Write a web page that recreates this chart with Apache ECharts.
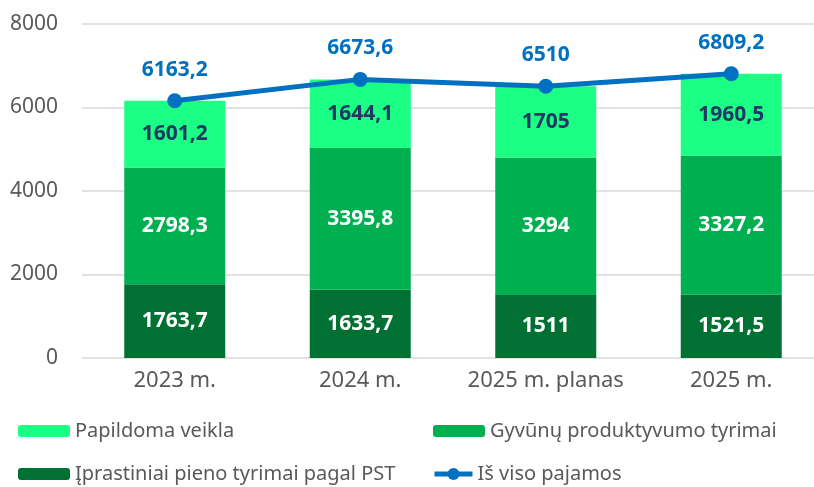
<!DOCTYPE html>
<html>
<head>
<meta charset="utf-8">
<script src="https://cdn.jsdelivr.net/npm/echarts@6/dist/echarts.min.js"></script>
<style>
  html, body { margin: 0; padding: 0; background: #fff; }
  #chart { width: 814px; height: 487px; }
</style>
</head>
<body>
<div id="chart"></div>
<script>
// duomenys
const categories = ["2023 m.", "2024 m.", "2025 m. planas", "2025 m."];
const iprastiniai = [1763.7, 1633.7, 1511, 1521.5];
const gyvunu = [2798.3, 3395.8, 3294, 3327.2];
const papildoma = [1601.2, 1644.1, 1705, 1960.5];
const isViso = [6163.2, 6673.6, 6510, 6809.2];
const yTicks = [0, 2000, 4000, 6000, 8000];

const font = "'Noto Sans', 'Open Sans', sans-serif";
const fmt = (p) => String(p.value).replace(".", ",");

const chart = echarts.init(document.getElementById("chart"));

function barLabel(color) {
    return {
        show: true,
        position: "inside",
        formatter: fmt,
        color: color,
        fontFamily: font,
        fontWeight: "bold",
        fontSize: 21
    };
}

function legendAt(name, left, top, w, h) {
    return {
        data: [name],
        left: left,
        top: top,
        itemWidth: w,
        itemHeight: h,
        itemGap: 0,
        padding: 0,
        selectedMode: false,
        textStyle: { color: "#595959", fontFamily: font, fontSize: 20 }
    };
}

const lineLegend = legendAt("Iš viso pajamos", 432, 464, 38, 15);
lineLegend.lineStyle = { width: 5 };

const option = {
    animation: false,
    backgroundColor: "#fff",
    grid: { left: 82, width: 742, top: 24, bottom: 129, outerBoundsMode: "none" },
    legend: [
        legendAt("Papildoma veikla", 18, 421, 52, 12),
        legendAt("Gyvūnų produktyvumo tyrimai", 433, 421, 52, 12),
        legendAt("Įprastiniai pieno tyrimai pagal PST", 18, 464, 52, 12),
        lineLegend
    ],
    xAxis: {
        type: "category",
        data: categories,
        axisLine: { show: false },
        axisTick: { show: false },
        axisLabel: {
            color: "#595959",
            fontFamily: font,
            fontSize: 22,
            margin: 12,
            interval: 0,
            hideOverlap: false
        }
    },
    yAxis: {
        type: "value",
        min: yTicks[0],
        max: yTicks[yTicks.length - 1],
        interval: 2000,
        axisLine: { show: false },
        axisTick: { show: false },
        axisLabel: {
            color: "#595959",
            fontFamily: font,
            fontSize: 21,
            margin: 24,
            formatter: (v) => String(v)
        },
        splitLine: { lineStyle: { color: "#D9D9D9", width: 1.5 } }
    },
    series: [
        {
            name: "Įprastiniai pieno tyrimai pagal PST",
            type: "bar",
            stack: "s",
            barWidth: 101,
            data: iprastiniai,
            itemStyle: { color: "#007033" },
            label: barLabel("#ffffff")
        },
        {
            name: "Gyvūnų produktyvumo tyrimai",
            type: "bar",
            stack: "s",
            data: gyvunu,
            itemStyle: { color: "#00B050" },
            label: barLabel("#ffffff")
        },
        {
            name: "Papildoma veikla",
            type: "bar",
            stack: "s",
            data: papildoma,
            itemStyle: { color: "#1AFF84" },
            label: barLabel("#1F3864")
        },
        {
            name: "Iš viso pajamos",
            type: "line",
            data: isViso,
            symbol: "circle",
            symbolSize: 15,
            lineStyle: { color: "#0070C0", width: 5 },
            itemStyle: { color: "#0070C0" },
            label: {
                show: true,
                position: "top",
                distance: 13,
                formatter: fmt,
                color: "#0070C0",
                fontFamily: font,
                fontWeight: "bold",
                fontSize: 21
            },
            z: 5
        }
    ]
};

chart.setOption(option);
</script>
</body>
</html>
